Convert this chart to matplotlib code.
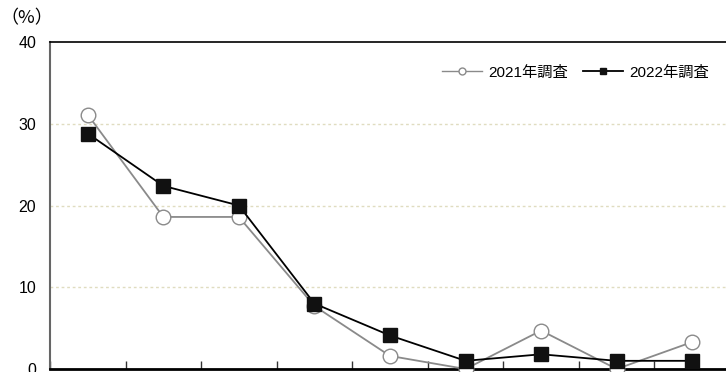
import numpy as np
import matplotlib.pyplot as plt
from matplotlib.lines import Line2D

plt.rcParams['font.family'] = ['Liberation Sans', 'Noto Sans CJK JP', 'DejaVu Sans']

categories = ["1", "2", "3", "4", "5", "6", "7", "8", "9"]
survey_2021 = [31.1, 18.6, 18.6, 7.7, 1.6, 0.0, 4.7, 0.0, 3.3]
survey_2022 = [28.8, 22.4, 20.0, 8.0, 4.1, 1.0, 1.8, 1.0, 1.0]
labels = ["2021年調査", "2022年調査"]

fig = plt.figure(figsize=(7.26, 3.72), dpi=100)
ax = fig.add_axes([50 / 726, 3 / 372, 680 / 726, 327 / 372])

x = np.arange(len(categories))
ax.plot(x, survey_2021, color="#8a8a8a", lw=1.3, marker="o", ms=10.5,
        mfc="white", mec="#8a8a8a", mew=1.0, clip_on=False, zorder=3)
ax.plot(x, survey_2022, color="black", lw=1.3, marker="s", ms=10,
        mfc="#111111", mec="#111111", clip_on=False, zorder=4)

ax.set_xlim(-0.5, len(categories) - 0.5)
ax.set_ylim(0, 40)
ax.set_yticks([0, 10, 20, 30, 40])
ax.tick_params(axis="y", length=0, labelsize=11.5, pad=10)
ax.set_xticks(np.arange(len(categories) + 1) - 0.5)
ax.set_xticklabels([])
ax.tick_params(axis="x", direction="in", length=6, width=1, color="#333333")
for yv in [10, 20, 30]:
    ax.axhline(yv, color="#e0dcc0", lw=1.0, ls=(0, (2, 2)), zorder=1)

ax.spines["left"].set_color("#666666")
ax.spines["left"].set_linewidth(1.5)
ax.spines["bottom"].set_linewidth(2)
ax.spines["top"].set_linewidth(1.2)
ax.spines["right"].set_visible(False)

fig.text(0, 1 - 18 / 372, "（%）", fontsize=13, va="center", ha="left",
         family=["Noto Sans CJK JP", "DejaVu Sans"])

handles = [
    Line2D([], [], color="#8a8a8a", lw=1.0, marker="o", ms=5, mfc="white", mec="#8a8a8a"),
    Line2D([], [], color="black", lw=1.3, marker="s", ms=5, mfc="#111111", mec="#111111"),
]
ax.legend(handles, labels, loc="upper right", bbox_to_anchor=(0.995 - 4 / 680, 0.97),
          ncol=2, frameon=False, fontsize=11, handlelength=2.6, handletextpad=0.4,
          columnspacing=1.0)

fig.savefig("out.png", dpi=100)
